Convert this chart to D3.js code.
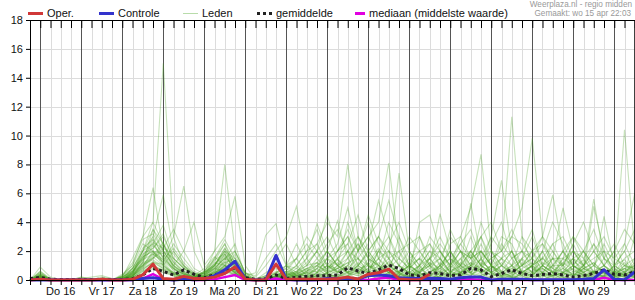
<!DOCTYPE html>
<html>
<head>
<meta charset="utf-8">
<script src="https://cdnjs.cloudflare.com/ajax/libs/d3/7.8.5/d3.min.js"></script>
<style>
  body { margin: 0; background: #fff; }
  svg { display: block; font-family: "Liberation Sans", Arial, sans-serif; }
</style>
</head>
<body>
<svg width="635" height="300"></svg>
<script>
// 6-hourly steps, starting wo 15 apr 18:00
var startTime = new Date(2015, 3, 15, 18);
var stepCount = 60;

var dayLabels = ["Do 16", "Vr 17", "Za 18", "Zo 19", "Ma 20", "Di 21", "Wo 22",
                 "Do 23", "Vr 24", "Za 25", "Zo 26", "Ma 27", "Di 28", "Wo 29"];
var yTicks = [0, 2, 4, 6, 8, 10, 12, 14, 16, 18];

var oper = [0,.05,0,0, 0,0,0,.05, 0,0,.05,.35, 1.1,.1,.05,.25, .1,.1,.2,.45,
            .9,.05,0,0, 1.1,.05,.05,.05, .05,.05,.1,.2, .07,.4,.5,.75, .07,.02,.02,.4];

var controle = [0,0,0,0, 0,0,0,0, 0,0,.02,.1, .15,.05,0,.05, .02,.05,.3,.7,
                1.3,.05,0,0, 1.7,.05,0,0, .02,.1,.1,.12, .05,.3,.35,.3, .15,.12,.1,.12,
                .1,.05,.15,.2, .2,0,.05,.05, .05,.02,.02,.02, .02,.02,.05,.1, .7,.05,.02,.55];

var gemiddelde = [.1,.18,.05,.03, .03,.03,.03,.05, .03,.03,.1,.35, .8,.6,.35,.7, .4,.16,.35,.57,
                  .85,.16,.05,.08, .35,.1,.19,.25, .3,.3,.35,.85, .62,.44,.7,1.04, .8,.35,.28,.5,
                  .45,.3,.35,.8, .7,.23,.45,.7, .45,.3,.38,.45, .35,.2,.3,.45, .7,.4,.35,.57];

var mediaan = [0,.05,0,0, 0,0,0,0, 0,0,0,.1, .4,.05,0,.05, 0,0,.05,.2,
               .35,0,0,0, .1,0,0,0, 0,0,0,.05, 0,0,.1,.15, 0,0,0,0,
               0,0,0,.05, 0,0,0,0, 0,0,0,0, 0,0,0,0, .15,0,0,0];

var leden = [
  [0,.2,0,0, 0,0,0,0, 0,0,.5,2, 4,15,3,1, .5,.2,1,2, 1,.2,0,0, .5,.3,0,.2, 1,2,1,.5, 0,.5,1.5,.8, .3,0,.5,1, 2,1,.5,1.5, 3,1,.2,0, .5,1,2,.5, 0,.3,1,.5, .2,0,.5,1],
  [0,.5,0,0, .1,0,0,0, 0,.2,1.5,3, 6.4,2,1,.5, 0,.3,1.5,2.5, 1.2,0,0,.5, 1,.2,0,0, .5,1.5,2,3, 1,.5,0,.5, 1,2,1,0, .3,.8,2,1.5, .5,0,.2,1, 2,1,0,.3, .8,1.5,.5,0, .3,1,2,.5],
  [0,.9,.2,0, 0,0,.1,0, 0,0,.8,1.5, 3,5.9,2,1, .3,0,.5,1, 2,.5,0,0, 0,1,.5,.2, 0,.3,1,4, 2,1,.5,0, .5,1,3,1, 0,.5,1.5,2, 1,.5,0,.4, 1.5,3,1,.5, .2,0,.8,1.2, .5,.2,0,.4],
  [0,.4,0,0, 0,.2,0,0, 0,.1,.5,2, 2.5,1.5,3,6.5, 2,.5,.8,1.5, .5,0,0,.2, .8,.4,.2,0, .3,1,.5,1, 3,1.5,.5,.2, 0,.5,1,1.5, .5,.2,1,3, 1,.5,.2,0, .5,1,1.5,.8, 2,1,.3,0, .2,.6,.4,1.5],
  [0,.1,0,0, .1,0,0,0, 0,0,.3,1, 1.5,2,1,2, 4,1,2,8, 2,.5,0,0, .3,0,.5,1, 2,.5,0,.3, 1,2,1,.5, 3,1,0,.5, .2,1,2,.5, 1.5,2,.5,.2, 0,.3,1,2, .8,.3,0,.5, 1,2,.5,.2],
  [0,.6,0,0, 0,0,0,.2, .1,0,.2,1.2, 3.5,2.5,1,.5, .2,.5,2,3, 5.8,1,0,0, .2,.5,1,.3, 0,.5,1,2, .5,0,.3,1, 2,.5,1,.2, 0,.3,.5,1, 2.5,1,.5,1, .3,0,.5,1.5, 1,2.5,1,.3, 0,.4,1,.8],
  [0,.2,0,.1, 0,0,0,0, 0,.3,1,2.5, 2,1,.5,.3, 0,.2,.8,1.5, 1,.3,.5,3.1, 3.9,1,.3,0, .5,1.5,1,.5, 2,4,1.5,.5, 0,.3,.5,.2, 1,1.5,.5,.3, .8,2,1,.4, 0,.5,.8,.3, 1.5,1,.5,1, 2,.5,.2,0],
  [0,.3,0,0, 0,.1,.2,.3, .1,0,.4,1.8, 2.2,3,1.5,.8, .3,.5,1,2, 1.5,.5,.2,1, 2,3,5.1,1.5, .5,.2,.8,1.2, 1.5,.5,2,3, 1,.5,0,.3, .8,2,1,.5, 0,1,2.5,1.5, .5,1,.3,0, .5,1.5,2,.5, .3,1,.5,.3],
  [0,.1,0,0, 0,0,0,0, 0,.2,.6,1, 1.8,1.2,.5,.2, 0,.3,1.2,1, .5,0,.1,.3, .5,1,.8,1.5, 3.9,2,4.1,1.5, .5,1,2,1, .5,0,1,2, 1,.3,.5,1.2, .5,.8,1.5,.5, 1,2,.5,.2, 0,.5,1,2, 1,.3,.8,1],
  [0,.2,0,0, 0,0,0,.1, 0,.1,.8,2, 3,1.5,.8,.4, .2,.5,1,1.8, .8,.2,0,0, .2,.4,1,2, 2.5,4,3,8, 3,1.5,1,.5, .3,1,.5,0, .5,1,2,1, .5,1,.3,.2, 1.2,.5,0,.4, 1,1.5,.3,.5, .8,.3,0,.2],
  [0,.1,0,0, 0,0,0,0, 0,0,.3,.8, 1.5,2.5,.8,.3, .1,.2,.6,1.2, .5,.1,0,0, .3,.6,.4,.8, 1,1.5,.5,1, 2,3,4,8.1, 2,1,.5,1, 1.5,.5,.3,.8, 2,1,.3,.5, 1,1.5,.8,.3, .5,1,2,1, .5,.2,.6,1],
  [0,.4,.1,0, 0,0,.1,0, 0,.1,.4,1.3, 2.8,1,2,1, .4,.3,1,2.2, 1,.3,0,.2, .6,.2,.3,.5, 1,.6,2,2.5, 1,2,3,1.5, 7.4,2,.5,.3, 1,2,.8,.5, 1.5,.5,1,2, .5,.3,1,1.5, .5,.2,.8,.5, 1.5,.8,.3,.5],
  [0,.2,0,0, .1,.1,0,0, 0,0,.2,.7, 1.2,.8,.5,.2, 0,.2,.5,.8, .3,0,0,0, .2,.8,1.5,.5, .3,.5,.8,2, 1.5,1,.5,2, 1,.5,4,4.5, 2,.8,.5,1, 2,1,.5,.3, .8,1.2,.5,1, 2,.5,.2,.6, 1,.5,1.2,.4],
  [0,.3,0,0, 0,0,0,.1, 0,.2,.5,1.6, 2,1.8,.6,.3, .2,.6,1.4,1.8, .6,.2,0,.3, .4,.2,.5,.8, .5,1,.5,1.5, 2.5,1,.8,1.5, .5,1,2,1, 4.6,2,1,5.3, 1.5,.5,1,2, .5,1,1.5,2.5, 1,.3,.5,1, .5,.3,1,.8],
  [0,.1,0,0, 0,0,0,0, 0,.1,.2,.6, 1,.6,.3,.1, 0,.1,.3,.6, .4,0,0,0, .1,.3,.6,1, 1.2,.8,1.5,.5, 1,.5,2,1.5, .5,.2,.5,1.5, 2,1,3,5, 8.7,2,1,.5, .3,1,2,.8, .5,1,.5,.2, .3,.5,1.5,2],
  [0,.3,0,0, 0,0,0,0, .1,0,.6,1.4, 1.8,1.3,.7,.4, .1,.4,.9,1.6, .9,.1,0,.1, .3,.5,.2,.4, .8,.3,.6,1, .4,1.5,1,.3, .5,1,1.5,.8, .3,.5,1,2, 1,3,6.9,2, .5,.3,1,.5, 1.2,2,.8,.3, .6,.2,.4,.7],
  [0,.2,0,0, 0,0,0,0, 0,.1,.3,.9, 1.6,1,.4,.2, .1,.2,.7,1.3, .7,.2,0,0, .1,.2,.4,.7, .3,.7,1.2,.6, .5,.8,1.5,2, 1,.3,.6,1.2, .8,1.5,2.5,1.5, 3,4,2,11.3, 3,1,.5,.3, .5,.8,.3,.6, .2,.4,.8,.5],
  [0,.1,0,0, 0,0,0,0, 0,0,.2,.5, .9,.7,.4,.2, 0,.1,.4,1, .5,0,0,0, .1,.2,.3,.5, .6,1,.8,.5, 1.2,.6,.4,.8, 1.5,.8,.3,.5, 1.2,.6,.3,.8, 1,1.5,2,3, 5,9.8,3,1, .5,.3,.8,1.2, .5,.3,.2,.5],
  [0,.2,.1,0, 0,0,0,0, 0,.1,.4,1.1, 1.4,.9,.5,.2, .1,.3,.5,.9, .6,.1,0,0, .2,.5,.3,.6, 1,.5,1.5,2, .8,.5,1,.6, .3,.8,1.5,.5, 1,2,.5,.3, 1,.5,1.5,2, 1,2,3,5.9, 2,1,.5,5.1, 2,.5,.3,.2],
  [0,.3,0,0, 0,.1,0,0, 0,0,.5,1.2, 2.4,1.6,.8,.4, .2,.5,1.1,1.7, .7,.2,0,0, .2,.6,.4,.3, .8,1.2,.6,.4, 1,1.8,.8,.5, .6,.3,1,2, 1.5,.5,1.2,.8, .5,1,.6,1.5, 2,.8,.5,1.5, 5,2,1,5.6, 1.5,.5,.8,.3],
  [0,.2,0,0, .1,0,0,0, 0,.1,.3,.8, 1.2,1.1,.4,.3, .1,.2,.6,1.1, .4,0,0,0, .2,.3,.6,.2, .5,.8,1.4,.8, .6,1.2,.5,1, .4,.2,.8,1.5, .6,.3,.8,1.2, .8,.3,1,.6, 1.5,.8,.3,1, 1,2,1.5,.5, 4.4,1,10.4,2],
  [0,.1,0,0, 0,0,0,0, 0,0,.2,.4, .8,.5,.3,.1, 0,.1,.3,.5, .3,0,0,0, .1,.4,.2,.1, .3,.5,.2,.6, .4,.8,1.2,.5, 1,.5,.3,.8, 1.5,.6,.4,1, .7,.3,.5,1, .4,.7,1.2,.8, .3,1,.6,.4, 1,.5,2.5,6],
  [0,.5,0,0, 0,.2,.1,0, 0,.3,.8,2, 3.5,2,1.5,.8, .4,.2,.5,1, .5,.1,0,0, .4,.5,.3,.1, .8,2,1,.5, .3,.2,.5,.4, .6,1.2,.3,0, .5,.8,1.5,.4, .8,1.5,.6,.2, .3,.6,.8,.3, .5,.3,1,2.5, 1,.4,.2,.8],
  [0,.3,0,0, 0,0,0,0, 0,.2,.6,1.4, 2.2,3.2,1.3,.6, .3,.1,.4,1.4, 2.5,.3,0,0, .1,.3,.8,.4, .2,.5,.8,1.2, .5,.3,.8,1.2, .4,.6,.2,.5, 1,.3,.6,1.8, .6,.4,.2,.5, 1,1.5,.4,.2, .6,1.3,.8,.5, .2,1,1.4,.5],
  [0,.1,0,0, 0,0,0,0, 0,0,.3,.9, 1.7,2.6,1.2,.5, .2,.3,.8,.6, 1.8,.2,0,0, .3,.2,.1,.6, 1.2,.4,.2,.8, 1.5,.6,.3,.2, .4,.3,.7,1, .3,.6,1,.5, .3,.8,1.2,.6, .2,.4,1.6,.5, .8,.4,.2,.4, .7,.3,.5,1.2],
  [0,.2,0,0, 0,0,.1,.1, 0,.1,.4,1, 1.9,1.4,2.2,1.2, .5,.2,.4,.9, 1.3,.2,0,0, 0,.1,.3,.5, .3,.2,.4,.3, .8,1,.6,.4, .2,.5,.3,.6, .8,.4,.3,.6, .4,.2,.5,.8, .6,.3,.2,.5, .3,.6,.4,.2, .5,.3,.6,.4],
  [0,.1,0,0, 0,0,0,0, 0,.1,.3,.7, 1.3,.8,.4,.2, .1,.2,.5,.8, .4,0,0,0, 0,.1,.2,.3, .2,.4,.2,.5, .3,.6,.4,.2, .3,.2,.4,.3, .2,.5,.3,.4, .3,.5,.3,.2, .4,.2,.5,.3, .2,.4,.3,.2, .3,.2,.4,.3],
  [0,.4,0,0, 0,0,0,0, 0,.4,1,3, 4,2.5,1.2,.6, .2,.6,1.5,2.8, 1.5,.4,0,0, .2,.3,.6,1.2, 2,1,.6,.3, .5,1.2,2.2,1, .5,.2,.6,1.2, .3,.2,.5,1, 1.4,.6,.3,.8, 1.4,.5,.3,.6, 1.2,.7,.3,.6, .4,.8,.3,.2],
  [0,.2,0,0, 0,0,0,0, 0,0,.2,.6, 1,.7,.3,.1, 0,.1,.3,.7, .3,0,0,0, 0,.1,.1,.2, .2,.1,.3,.2, .1,.3,.2,.1, .2,.1,.2,.3, .2,.1,.3,.2, .1,.2,.1,.2, .1,.2,.3,.1, .2,.1,.2,.1, .2,.1,.3,.2],
  [0,.6,.1,0, 0,.1,0,0, 0,.2,.7,1.7, 2.6,2.2,1.8,.9, .4,.5,1.1,2, 1,.3,0,.1, .5,.8,.3,.6, 1.5,.7,.4,.2, .8,.4,.6,1.3, .6,1.5,.8,.3, .6,1.2,.4,.5, 1.2,.8,.4,.3, .7,.4,1,.6, .3,.8,1.4,.6, .4,.6,.3,.9],
  [0,.3,0,0, 0,0,0,0, 0,.3,1.2,2.8, 3.2,2,1,.4, .2,.4,1,2.2, 1.2,.2,0,.3, 1.5,2.5,1,2, 3.5,1.5,2.5,5, 2,3,1.5,4, 2.5,1,.5,1.5, 3,1.5,.8,2, 1,2.5,4,1.5, 2,3.5,1,.5, 1.5,3,2,1, 2.5,1,.5,3],
  [0,.2,0,0, 0,0,0,0, 0,.1,.5,1.5, 2.5,3.8,1.5,.8, .3,.2,.6,1.8, 1,.1,0,0, .5,1,2.5,1, 2,3,1.5,2.5, 4.5,2,3,5.5, 3,1.5,2,1, .5,2.5,3,1.5, 2,1,3,2.5, 1,.5,2,4, 2.5,1,2,3.5, 1.5,2.5,1,.5],
  [0,.1,0,0, 0,0,0,0, 0,0,.4,1, 2,1.2,2.5,1.5, .6,.3,.8,1.5, 2,.5,.3,1.5, 2.5,1,1.5,3, 2,4.5,2,3, 1.5,2.5,5.5,3, 1.5,3,2,2.5, 1,3.5,2,1, 4,2,1.5,3, 2.5,1.5,3,2, 1,2.5,4,2, 1,2,3.5,2.5],
  [0,.2,0,0, 0,0,0,0, 0,.2,.8,2.2, 2.8,1.8,.9,.5, .2,.5,1.3,2.5, .8,.2,0,0, .3,.6,1.5,2.5, 1.5,2.5,3.5,2, 3,2,1,2.5, 4,2,1,3, 2,1,2.5,3.5, 1.5,3,2,1, 3,2,1,2.5, 3,1.5,1,2, 3,1.5,2.5,1],
  [0,.3,.1,0, 0,0,.1,.1, 0,.1,.3,1.2, 1.5,2.2,3.5,2, .8,.4,.7,1.2, 1.5,.3,0,0, .2,.3,.5,1.5, 2.5,1,2,3.5, 2,4.5,2.5,1.5, 2,2.5,3,1.5, 2.5,1.5,1,2, 3,1.5,2,3.5, 2,1.5,2.5,1, 2,3,1.5,2.5, 1.5,1,2,3.5],
  [0,.2,0,0, 0,0,0,0, 0,.2,.6,1.6, 2,1.4,.8,.4, .3,.8,1.6,1, .6,.1,0,0, .3,.2,.4,.8, 1.2,2,1,1.5, 2.5,1.5,3,2, 1.5,.8,1.5,2.5, 1.5,3,2,1.5, 2,1,1.5,1, 1.5,2,2.5,1.5, 1.5,2,1,1.5, 2,1.5,1,1.5]
];

var svg = d3.select("svg"),
    width = +svg.attr("width"),
    height = +svg.attr("height");

// note: "top" would clash with window.top
var plotLeft = 30, plotRight = 634.75, plotTop = 20, plotBottom = 280;

function stepTime(i) { return d3.timeHour.offset(startTime, i * 6); }

var x = d3.scaleTime()
    .domain([startTime, stepTime(stepCount - 1)])
    .range([plotLeft, plotRight]);

var y = d3.scaleLinear()
    .domain([0, 18])
    .range([plotBottom, plotTop]);

var steps = d3.range(stepCount).map(stepTime);
var midnights = steps.filter(function(d) { return d.getHours() == 0; });
var others = steps.filter(function(d) { return d.getHours() != 0; });

// grid
svg.append("g")
    .selectAll("line")
    .data(yTicks.slice(1))
    .enter().append("line")
    .attr("x1", plotLeft).attr("x2", plotRight)
    .attr("y1", function(d) { return Math.round(y(d)) + 0.5; })
    .attr("y2", function(d) { return Math.round(y(d)) + 0.5; })
    .attr("stroke", "#dcdcdc");

svg.append("g")
    .selectAll("line")
    .data(others)
    .enter().append("line")
    .attr("x1", function(d) { return Math.round(x(d)) + 0.5; })
    .attr("x2", function(d) { return Math.round(x(d)) + 0.5; })
    .attr("y1", plotTop).attr("y2", plotBottom)
    .attr("stroke", "#dcdcdc");

svg.append("g")
    .selectAll("line")
    .data(midnights)
    .enter().append("line")
    .attr("x1", function(d) { return Math.round(x(d)) + 0.5; })
    .attr("x2", function(d) { return Math.round(x(d)) + 0.5; })
    .attr("y1", plotTop).attr("y2", plotBottom)
    .attr("stroke", "#555");

// series
var line = d3.line()
    .x(function(d, i) { return x(stepTime(i)); })
    .y(function(d) { return y(d); });

svg.append("g")
    .selectAll("path")
    .data(leden)
    .enter().append("path")
    .attr("d", line)
    .attr("fill", "none")
    .attr("stroke", "rgb(70,160,30)")
    .attr("stroke-opacity", 0.3)
    .attr("stroke-width", 1.1);

svg.append("path")
    .attr("d", line(mediaan))
    .attr("fill", "none")
    .attr("stroke", "#e000e0")
    .attr("stroke-width", 2.5);

svg.append("path")
    .attr("d", line(gemiddelde))
    .attr("fill", "none")
    .attr("stroke", "#222")
    .attr("stroke-width", 3)
    .attr("stroke-dasharray", "3,3");

svg.append("path")
    .attr("d", line(controle))
    .attr("fill", "none")
    .attr("stroke", "#3333cc")
    .attr("stroke-width", 3)
    .attr("stroke-linejoin", "round");

svg.append("path")
    .attr("d", line(oper))
    .attr("fill", "none")
    .attr("stroke", "#d03838")
    .attr("stroke-width", 3)
    .attr("stroke-linejoin", "round");

// axes
var xAxis = svg.append("g")
    .attr("transform", "translate(0," + plotBottom + ")")
    .call(d3.axisBottom(x).tickValues(steps).tickSize(5).tickSizeOuter(0).tickFormat(""));
xAxis.select(".domain").attr("stroke", "#000");

svg.append("g")
    .attr("transform", "translate(0," + plotTop + ")")
    .call(d3.axisBottom(x).tickValues(steps).tickSize(8).tickSizeOuter(0).tickFormat(""))
    .select(".domain").attr("stroke", "#000");

var yAxis = svg.append("g")
    .attr("transform", "translate(" + plotLeft + ",0)")
    .call(d3.axisLeft(y).tickValues(yTicks).tickSize(4).tickSizeOuter(0));
yAxis.selectAll("text")
    .attr("font-size", 11)
    .attr("font-family", "Liberation Sans, Arial, sans-serif")
    .attr("fill", "#111")
    .attr("x", -7);

svg.append("line")
    .attr("x1", plotRight).attr("x2", plotRight)
    .attr("y1", plotTop).attr("y2", plotBottom)
    .attr("stroke", "#000");

svg.append("g")
    .selectAll("text")
    .data(dayLabels)
    .enter().append("text")
    .attr("x", function(d, i) { return x(d3.timeHour.offset(startTime, 18 + i * 24)); })
    .attr("y", 295)
    .attr("text-anchor", "middle")
    .attr("font-size", 11)
    .attr("fill", "#111")
    .text(function(d) { return d; });

// legend
var legend = [
    {name: "Oper.", x: 28, color: "#d03838", w: 3, dash: null},
    {name: "Controle", x: 99, color: "#3333cc", w: 3, dash: null},
    {name: "Leden", x: 183, color: "#b8dcaa", w: 1, dash: null},
    {name: "gemiddelde", x: 257, color: "#222", w: 3, dash: "3,3"},
    {name: "mediaan (middelste waarde)", x: 355, color: "#e000e0", w: 3, dash: "10,2,2,2"}
];
var lg = svg.append("g")
    .selectAll("g")
    .data(legend)
    .enter().append("g");
lg.append("line")
    .attr("x1", function(d) { return d.x; })
    .attr("x2", function(d) { return d.x + (d.name.indexOf("mediaan") == 0 ? 12 : 15); })
    .attr("y1", 13.5).attr("y2", 13.5)
    .attr("stroke", function(d) { return d.color; })
    .attr("stroke-width", function(d) { return d.w; })
    .attr("stroke-dasharray", function(d) { return d.dash; });
lg.append("text")
    .attr("x", function(d) { return d.x + (d.name.indexOf("mediaan") == 0 ? 14 : 19); })
    .attr("y", 17)
    .attr("font-size", 11)
    .attr("fill", "#111")
    .text(function(d) { return d.name; });

svg.append("text")
    .attr("x", 632).attr("y", 7)
    .attr("text-anchor", "end")
    .attr("font-size", 8.2)
    .attr("fill", "#999")
    .text("Weerplaza.nl - regio midden");
svg.append("text")
    .attr("x", 631).attr("y", 16)
    .attr("text-anchor", "end")
    .attr("font-size", 8.2)
    .attr("fill", "#999")
    .text("Gemaakt: wo 15 apr 22:03");
</script>
</body>
</html>
